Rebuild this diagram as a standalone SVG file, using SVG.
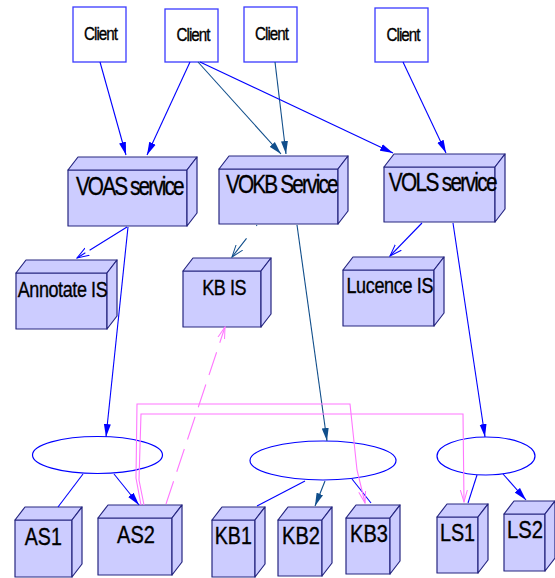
<svg xmlns="http://www.w3.org/2000/svg" width="555" height="578" viewBox="0 0 555 578">
<style>
.client rect{fill:#fff;stroke:#3a3aff;stroke-width:1.3}
.box path{fill:#ccccff;stroke:#262680;stroke-width:1.2;stroke-linejoin:round}
text{font-family:"Liberation Sans",Arial,sans-serif;fill:#000;stroke:#000;stroke-width:0.35px;text-anchor:middle}
.ct{font-size:19px;letter-spacing:-1.2px}
.st{font-size:26px}
.it{font-size:22.5px}
.lt{font-size:23px}
.ell{fill:#fff;stroke:#0000ff;stroke-width:1.2}
.e{fill:none;stroke-width:1.1}
.b{stroke:#0000ff}
.t{stroke:#104e8b}
.p{stroke:#ff77ff}
</style>
<defs>
<marker id="fb" markerUnits="userSpaceOnUse" viewBox="0 0 14 8" markerWidth="14" markerHeight="8" refX="13" refY="4" orient="auto"><path d="M0,0.5 L13,4 L0,7.5 z" fill="#0000ff"/></marker>
<marker id="ft" markerUnits="userSpaceOnUse" viewBox="0 0 14 8" markerWidth="14" markerHeight="8" refX="13" refY="4" orient="auto"><path d="M0,0.5 L13,4 L0,7.5 z" fill="#104e8b"/></marker>
<marker id="ob" markerUnits="userSpaceOnUse" viewBox="0 0 13 10" markerWidth="13" markerHeight="10" refX="12" refY="5" orient="auto"><path d="M0,0.8 L12,5 L0,9.2" fill="none" stroke="#0000ff" stroke-width="1"/></marker>
<marker id="ot" markerUnits="userSpaceOnUse" viewBox="0 0 13 10" markerWidth="13" markerHeight="10" refX="12" refY="5" orient="auto"><path d="M0,0.8 L12,5 L0,9.2" fill="none" stroke="#104e8b" stroke-width="1"/></marker>
<marker id="op" markerUnits="userSpaceOnUse" viewBox="0 0 13 10" markerWidth="13" markerHeight="10" refX="12" refY="5" orient="auto"><path d="M0,1.5 L12,5 L0,8.5" fill="none" stroke="#ff77ff" stroke-width="1"/></marker>
</defs>

<g id="client1" class="client"><rect x="73" y="7" width="53" height="55"/><text class="ct" transform="translate(100.5,39.5) scale(0.8,1)">Client</text></g>
<g id="client2" class="client"><rect x="165" y="9" width="53" height="53"/><text class="ct" transform="translate(193,40.5) scale(0.8,1)">Client</text></g>
<g id="client3" class="client"><rect x="244" y="7" width="53" height="55"/><text class="ct" transform="translate(271.5,39.5) scale(0.8,1)">Client</text></g>
<g id="client4" class="client"><rect x="375" y="8" width="53" height="54"/><text class="ct" transform="translate(403,41) scale(0.8,1)">Client</text></g>

<g id="voas" class="box"><path d="M68,170 h119 v56 h-119 z"/><path d="M68,170 l10,-13 h119 l-10,13 z"/><path d="M187,170 l10,-13 v56 l-10,13 z"/><text class="st" style="letter-spacing:-2.35px" transform="translate(129.3,195) scale(0.8,1)">VOAS service</text></g>
<g id="vokb" class="box"><path d="M219,169 h119 v55 h-119 z"/><path d="M219,169 l10,-13 h119 l-10,13 z"/><path d="M338,169 l10,-13 v55 l-10,13 z"/><text class="st" style="letter-spacing:-2.3px" transform="translate(281.3,193) scale(0.8,1)">VOKB Service</text></g>
<g id="vols" class="box"><path d="M384,167 h111 v55 h-111 z"/><path d="M384,167 l10,-13 h111 l-10,13 z"/><path d="M495,167 l10,-13 v55 l-10,13 z"/><text class="st" style="letter-spacing:-2.1px" transform="translate(442.3,190.7) scale(0.8,1)">VOLS service</text></g>

<g id="annotate" class="box"><path d="M16,273 h91 v56 h-91 z"/><path d="M16,273 l10,-13 h91 l-10,13 z"/><path d="M107,273 l10,-13 v56 l-10,13 z"/><text class="it" style="letter-spacing:-0.5px" transform="translate(62.5,296.7) scale(0.8,1)">Annotate IS</text></g>
<g id="kbis" class="box"><path d="M183,271 h78 v56 h-78 z"/><path d="M183,271 l10,-13 h78 l-10,13 z"/><path d="M261,271 l10,-13 v56 l-10,13 z"/><text class="it" style="letter-spacing:-0.5px" transform="translate(224.2,295) scale(0.8,1)">KB IS</text></g>
<g id="lucence" class="box"><path d="M343,270 h91 v56 h-91 z"/><path d="M343,270 l10,-13 h91 l-10,13 z"/><path d="M434,270 l10,-13 v56 l-10,13 z"/><text class="it" style="letter-spacing:-0.4px" transform="translate(389.8,293.3) scale(0.8,1)">Lucence IS</text></g>

<g id="as1" class="box"><path d="M15,520 h57 v57 h-57 z"/><path d="M15,520 l10,-13 h57 l-10,13 z"/><path d="M72,520 l10,-13 v57 l-10,13 z"/><text class="lt" transform="translate(43.3,545) scale(0.85,1)">AS1</text></g>
<g id="as2" class="box"><path d="M98,518 h74 v57 h-74 z"/><path d="M98,518 l10,-13 h74 l-10,13 z"/><path d="M172,518 l10,-13 v57 l-10,13 z"/><text class="lt" transform="translate(136,542.7) scale(0.87,1)">AS2</text></g>
<g id="kb1" class="box"><path d="M212,520 h43 v57 h-43 z"/><path d="M212,520 l10,-13 h43 l-10,13 z"/><path d="M255,520 l10,-13 v57 l-10,13 z"/><text class="lt" transform="translate(233.3,544) scale(0.85,1)">KB1</text></g>
<g id="kb2" class="box"><path d="M278,520 h44 v56 h-44 z"/><path d="M278,520 l10,-13 h44 l-10,13 z"/><path d="M322,520 l10,-13 v56 l-10,13 z"/><text class="lt" transform="translate(301,544) scale(0.87,1)">KB2</text></g>
<g id="kb3" class="box"><path d="M346,518 h44 v56 h-44 z"/><path d="M346,518 l10,-13 h44 l-10,13 z"/><path d="M390,518 l10,-13 v56 l-10,13 z"/><text class="lt" transform="translate(369,542.3) scale(0.87,1)">KB3</text></g>
<g id="ls1" class="box"><path d="M437,517 h41 v56 h-41 z"/><path d="M437,517 l10,-13 h41 l-10,13 z"/><path d="M478,517 l10,-13 v56 l-10,13 z"/><text class="lt" transform="translate(457.5,540.7) scale(0.86,1)">LS1</text></g>
<g id="ls2" class="box"><path d="M504,514 h41 v57 h-41 z"/><path d="M504,514 l10,-13 h41 l-10,13 z"/><path d="M545,514 l10,-13 v57 l-10,13 z"/><text class="lt" transform="translate(525,538.3) scale(0.88,1)">LS2</text></g>

<g id="hub1"><ellipse class="ell" cx="97.5" cy="455" rx="65" ry="18.5"/></g>
<g id="hub2"><ellipse class="ell" cx="323" cy="460.5" rx="73" ry="19.5"/></g>
<g id="hub3"><ellipse class="ell" cx="486" cy="456" rx="49" ry="19"/></g>

<g id="connectors">
<path class="e b" d="M100,62 L126,155" marker-end="url(#fb)"/>
<path class="e b" d="M190,62 L147,155" marker-end="url(#fb)"/>
<path class="e t" d="M198,62 L281,154" marker-end="url(#ft)"/>
<path class="e t" d="M275,62 L286,154" marker-end="url(#ft)"/>
<path class="e b" d="M200,62 L393,153" marker-end="url(#fb)"/>
<path class="e b" d="M403,62 L446,153" marker-end="url(#fb)"/>
<path class="e b" d="M127,227 L77,258" stroke-dasharray="44,5" marker-end="url(#ob)"/>
<path class="e b" d="M128,227 L106,437" marker-end="url(#fb)"/>
<path class="e t" d="M257,225 L232,257" stroke-dasharray="1,16,30" marker-end="url(#ot)"/>
<path class="e t" d="M297,225 L327,441" marker-end="url(#ft)"/>
<path class="e b" d="M422,223 L390,256" marker-end="url(#ob)"/>
<path class="e b" d="M453,223 L485,437" marker-end="url(#fb)"/>
<path class="e b" d="M83,474 L58,507"/>
<path class="e b" d="M114,474 L139,505" marker-end="url(#fb)"/>
<path class="e b" d="M305,481 L257,506"/>
<path class="e t" d="M325,481 L315,506" marker-end="url(#ft)"/>
<path class="e b" d="M352,479 L371,503"/>
<path class="e b" d="M477,475 L468,503"/>
<path class="e b" d="M503,474 L526,500" marker-end="url(#fb)"/>
<path class="e p" d="M141,505 L136,478 L137,404 L350,404 L357,470 L365,503" marker-end="url(#op)"/>
<path class="e p" d="M144,505 L139,480 L141,414 L463,414 L464,502" marker-end="url(#op)"/>
<path class="e p" d="M166,504 L225,327" stroke-dasharray="24,10" marker-end="url(#op)"/>
</g>
</svg>
